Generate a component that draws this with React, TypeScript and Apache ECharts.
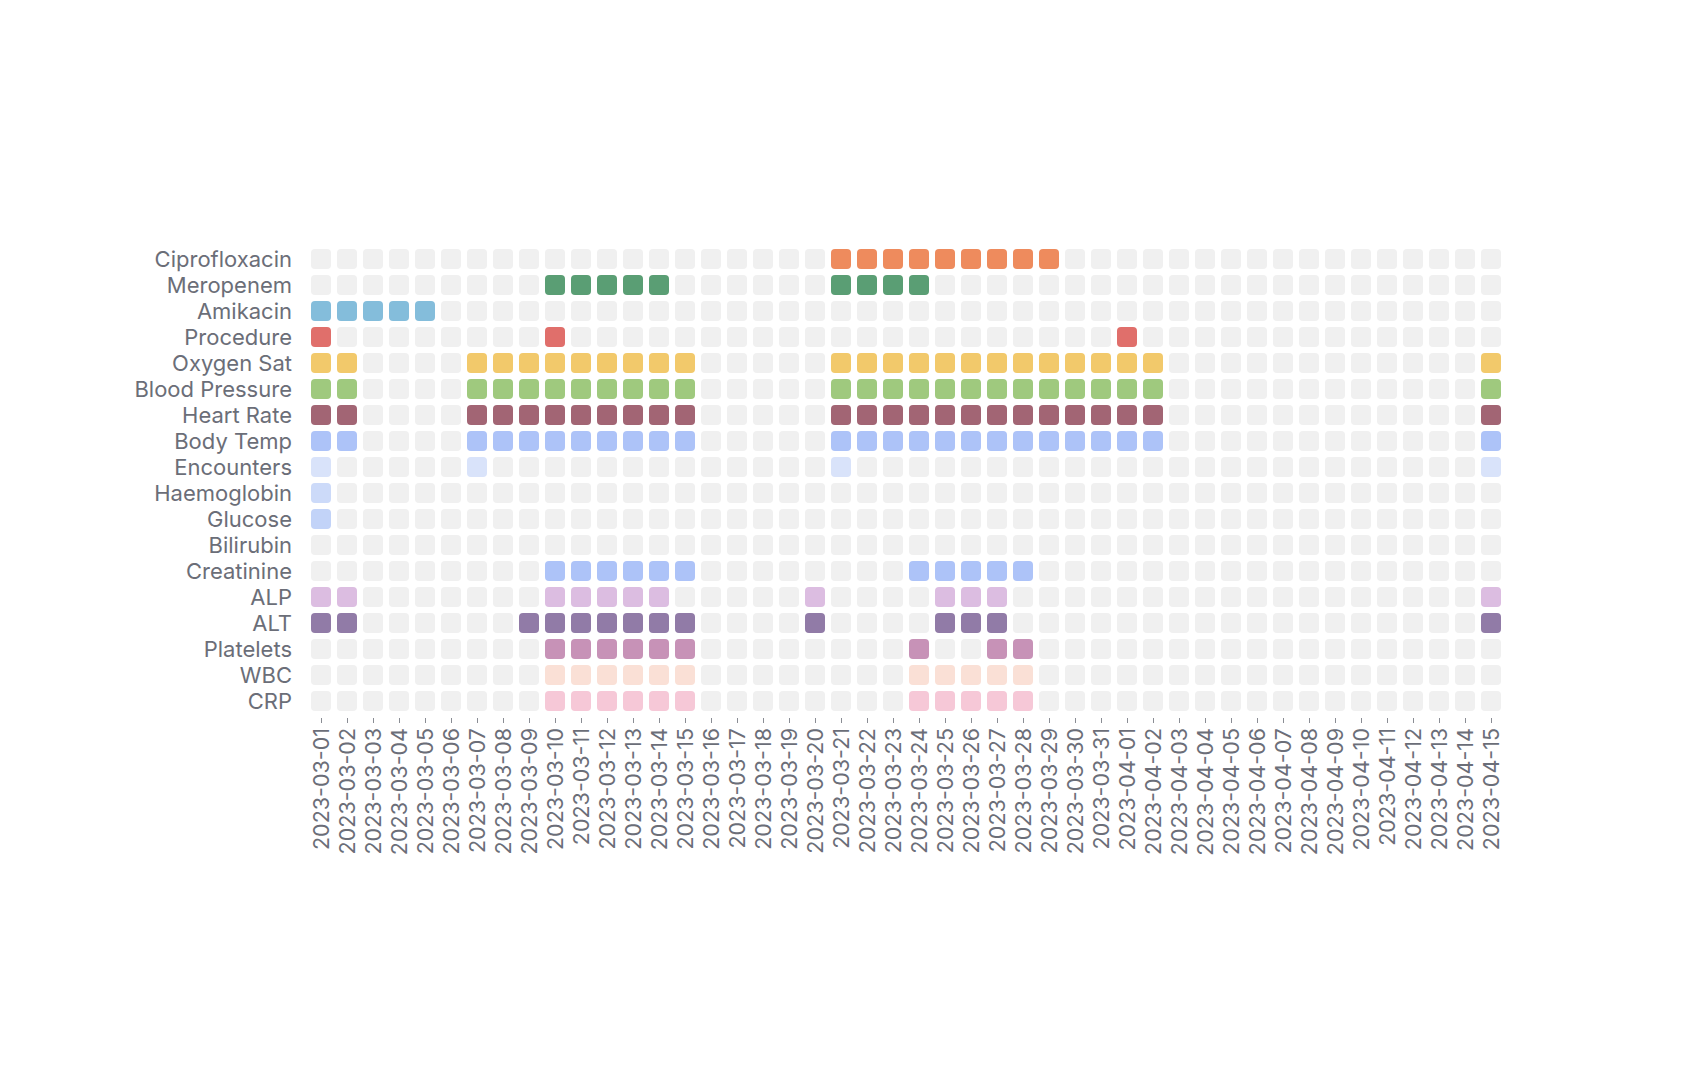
import React, { useEffect, useRef } from "react";
import * as echarts from "echarts";

const dates = [
  "2023-03-01", "2023-03-02", "2023-03-03", "2023-03-04", "2023-03-05", "2023-03-06",
  "2023-03-07", "2023-03-08", "2023-03-09", "2023-03-10", "2023-03-11", "2023-03-12",
  "2023-03-13", "2023-03-14", "2023-03-15", "2023-03-16", "2023-03-17", "2023-03-18",
  "2023-03-19", "2023-03-20", "2023-03-21", "2023-03-22", "2023-03-23", "2023-03-24",
  "2023-03-25", "2023-03-26", "2023-03-27", "2023-03-28", "2023-03-29", "2023-03-30",
  "2023-03-31", "2023-04-01", "2023-04-02", "2023-04-03", "2023-04-04", "2023-04-05",
  "2023-04-06", "2023-04-07", "2023-04-08", "2023-04-09", "2023-04-10", "2023-04-11",
  "2023-04-12", "2023-04-13", "2023-04-14", "2023-04-15",
];

const rows = [
  "Ciprofloxacin", "Meropenem", "Amikacin", "Procedure", "Oxygen Sat", "Blood Pressure",
  "Heart Rate", "Body Temp", "Encounters", "Haemoglobin", "Glucose", "Bilirubin",
  "Creatinine", "ALP", "ALT", "Platelets", "WBC", "CRP",
];

const rowColors = [
  "#ee8b5d", "#5a9e74", "#84bddb", "#e06f6b", "#f2c96b", "#9fc97e",
  "#a26574", "#adc3f8", "#d9e3fa", "#ccdaf9", "#c2d3f8", "#c2d3f8",
  "#adc3f8", "#dcbde1", "#917ba7", "#c792b7", "#fae0d6", "#f6c8d7",
];

const emptyColor = "#f0f0f0";

// active days per row (MM-DD)
const ciprofloxacin = ["03-21", "03-22", "03-23", "03-24", "03-25", "03-26", "03-27", "03-28", "03-29"];
const meropenem = ["03-10", "03-11", "03-12", "03-13", "03-14", "03-21", "03-22", "03-23", "03-24"];
const amikacin = ["03-01", "03-02", "03-03", "03-04", "03-05"];
const procedure = ["03-01", "03-10", "04-01"];
const vitalsDays = [
  "03-01", "03-02", "03-07", "03-08", "03-09", "03-10", "03-11", "03-12", "03-13", "03-14", "03-15",
  "03-21", "03-22", "03-23", "03-24", "03-25", "03-26", "03-27", "03-28", "03-29", "03-30", "03-31",
  "04-01", "04-02", "04-15",
];
const oxygenSat = vitalsDays;
const bloodPressure = vitalsDays;
const heartRate = vitalsDays;
const bodyTemp = vitalsDays;
const encounters = ["03-01", "03-07", "03-21", "04-15"];
const haemoglobin = ["03-01"];
const glucose = ["03-01"];
const bilirubin: string[] = [];
const creatinine = ["03-10", "03-11", "03-12", "03-13", "03-14", "03-15", "03-24", "03-25", "03-26", "03-27", "03-28"];
const alp = ["03-01", "03-02", "03-10", "03-11", "03-12", "03-13", "03-14", "03-20", "03-25", "03-26", "03-27", "04-15"];
const alt = ["03-01", "03-02", "03-09", "03-10", "03-11", "03-12", "03-13", "03-14", "03-15", "03-20", "03-25", "03-26", "03-27", "04-15"];
const platelets = ["03-10", "03-11", "03-12", "03-13", "03-14", "03-15", "03-24", "03-27", "03-28"];
const wbc = ["03-10", "03-11", "03-12", "03-13", "03-14", "03-15", "03-24", "03-25", "03-26", "03-27", "03-28"];
const crp = ["03-10", "03-11", "03-12", "03-13", "03-14", "03-15", "03-24", "03-25", "03-26", "03-27", "03-28"];

const activeByRow = [
  ciprofloxacin, meropenem, amikacin, procedure, oxygenSat, bloodPressure,
  heartRate, bodyTemp, encounters, haemoglobin, glucose, bilirubin,
  creatinine, alp, alt, platelets, wbc, crp,
];

const FONT = "Inter";
const LABEL_COLOR = "#6b6e78";

export default function App() {
  const ref = useRef<HTMLDivElement>(null);

  useEffect(() => {
    if (!ref.current) return;
    const chart = echarts.init(ref.current, undefined, { renderer: "svg" });

    const data: any[] = [];
    rows.forEach((r, yi) => {
      const active = new Set(activeByRow[yi].map((d) => "2023-" + d));
      dates.forEach((d, xi) => {
        data.push({
          value: [xi, yi, active.has(d) ? 1 : 0],
          itemStyle: { color: active.has(d) ? rowColors[yi] : emptyColor },
        });
      });
    });

    chart.setOption({
      animation: false,
      backgroundColor: "#ffffff",
      grid: { left: 308, top: 246, width: 1196, height: 468, containLabel: false },
      xAxis: {
        type: "category",
        data: dates,
        offset: 4,
        axisLine: { show: false },
        axisTick: { show: true, alignWithLabel: true, interval: 0, length: 5, lineStyle: { color: "#8a8d94", width: 1 } },
        axisLabel: {
          rotate: 90,
          interval: 0,
          margin: 10,
          fontFamily: FONT,
          fontSize: 21.5,
          color: LABEL_COLOR,
        },
        splitLine: { show: false },
      },
      yAxis: {
        type: "category",
        data: rows,
        inverse: true,
        axisLine: { show: false },
        axisTick: { show: false },
        axisLabel: {
          interval: 0,
          margin: 16,
          fontFamily: FONT,
          fontSize: 22,
          color: LABEL_COLOR,
        },
        splitLine: { show: false },
      },
      series: [
        {
          type: "custom",
          data,
          renderItem: (params: any, api: any) => {
            const c = api.coord([api.value(0), api.value(1)]);
            const s = api.size([1, 1]);
            const w = s[0] - 6;
            const h = s[1] - 6;
            return {
              type: "rect",
              shape: { x: c[0] - w / 2, y: c[1] - h / 2, width: w, height: h, r: 4 },
              style: { fill: api.visual("color") },
            };
          },
        },
      ],
    });

    return () => chart.dispose();
  }, []);

  return (
    <div
      ref={ref}
      style={{ position: "fixed", left: 0, top: 0, width: 1707, height: 1077 }}
    />
  );
}
